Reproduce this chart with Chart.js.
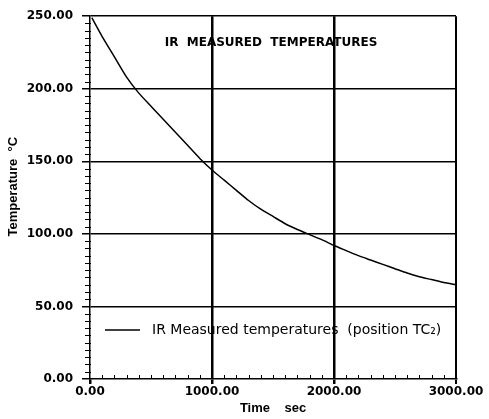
<!DOCTYPE html>
<html><head><meta charset="utf-8">
<script src="https://cdn.jsdelivr.net/npm/chart.js@4"></script>
<style>html,body{margin:0;padding:0;background:#fff}#wrap{width:489px;height:419px}</style>
</head><body><div id="wrap"><canvas id="c" width="489" height="419"></canvas></div>
<script>
const timeSec = [15,100,200,300,400,500,600,700,800,900,1000,1100,1200,1300,1400,1500,1600,1700,1800,1900,2000,2100,2200,2300,2400,2500,2600,2700,2800,2900,3000];
const tempC   = [249,236,222,208,197,188,179,170,161,152,144,137,130,123,117,112,107,103,99.5,96,92,88.5,85,82,79,76,73,70.5,68.5,66.5,65];
const xTickValues = [0,1000,2000,3000];
const yTickValues = [0,50,100,150,200,250];
const xMinorStep = 100;
const yMinorStep = 5;
const seriesLabel = 'IR Measured temperatures  (position TC\u2082)';
const chartTitle = 'IR  MEASURED  TEMPERATURES';
const xTitle = 'Time    sec';
const yTitle = '      Temperature  \u00B0C';

const FONT = 'DejaVu Sans';
const FONT2 = 'Liberation Sans';

const decor = {
  id: 'decor',
  afterDraw(chart) {
    const {ctx, chartArea: ca, scales: {x, y}} = chart;
    ctx.save();
    ctx.strokeStyle = '#000';
    ctx.lineWidth = 1;
    ctx.beginPath();
    for (let v = y.min; v <= y.max; v += yMinorStep) {
      if (yTickValues.includes(v)) continue;
      const py = Math.round(y.getPixelForValue(v)) + 0.5;
      ctx.moveTo(ca.left - 5, py); ctx.lineTo(ca.left + 1, py);
    }
    for (let v = x.min; v <= x.max; v += xMinorStep) {
      if (xTickValues.includes(v)) continue;
      const px = Math.round(x.getPixelForValue(v)) + 0.5;
      ctx.moveTo(px, ca.bottom); ctx.lineTo(px, ca.bottom - 4);
    }
    ctx.stroke();
    // title inside plot
    ctx.fillStyle = '#000';
    ctx.font = 'bold 12px "' + FONT + '"';
    ctx.textAlign = 'center';
    ctx.textBaseline = 'middle';
    ctx.fillText(chartTitle, (ca.left + ca.right) / 2 - 2, ca.top + 27);
    // legend inside plot
    const ly = ca.bottom - 49;
    ctx.lineWidth = 1.5;
    ctx.beginPath();
    ctx.moveTo(ca.left + 15, ly); ctx.lineTo(ca.left + 50, ly);
    ctx.stroke();
    ctx.font = '14px "' + FONT + '"';
    ctx.textAlign = 'left';
    ctx.fillText(chart.data.datasets[0].label, ca.left + 62, ly);
    ctx.restore();
  }
};

new Chart(document.getElementById('c'), {
  type: 'line',
  data: {
    datasets: [{
      label: seriesLabel,
      data: timeSec.map((t, i) => ({x: t, y: tempC[i]})),
      borderColor: '#000',
      borderWidth: 1.5,
      pointRadius: 0,
      tension: 0.2,
      fill: false
    }]
  },
  options: {
    responsive: false,
    devicePixelRatio: 1,
    animation: false,
    layout: {padding: {left: 0, right: 33, top: 15, bottom: 0}},
    plugins: {legend: {display: false}, title: {display: false}, tooltip: {enabled: false}},
    scales: {
      x: {
        type: 'linear', min: 0, max: 3000,
        afterBuildTicks: s => { s.ticks = xTickValues.map(v => ({value: v})); },
        afterFit: s => { s.height = 40; },
        ticks: {
          autoSkip: false, maxRotation: 0, padding: 1, color: '#000',
          font: {family: FONT, size: 12, weight: 'bold'},
          callback: v => Number(v).toFixed(2)
        },
        grid: {
          color: c => (c.tick && c.tick.value === 0) ? 'rgba(0,0,0,0)' : '#000',
          lineWidth: c => (c.tick && c.tick.value === 3000) ? 2 : 2.5,
          tickLength: 5, tickColor: '#000'
        },
        border: {display: true, color: '#000', width: 1.5},
        title: {display: true, text: xTitle, color: '#000', font: {family: FONT2, size: 13, weight: 'bold'}, padding: {top: 0, bottom: 3}}
      },
      y: {
        type: 'linear', min: 0, max: 250,
        afterBuildTicks: s => { s.ticks = yTickValues.map(v => ({value: v})); },
        afterFit: s => { s.width = 90; },
        ticks: {
          autoSkip: false, padding: 9, color: '#000',
          font: {family: FONT, size: 12, weight: 'bold'},
          callback: v => Number(v).toFixed(2)
        },
        grid: {
          color: c => (c.tick && c.tick.value === 0) ? 'rgba(0,0,0,0)' : '#000',
          lineWidth: 1.5, tickLength: 8, tickColor: '#000'
        },
        border: {display: true, color: '#000', width: 1.5},
        title: {display: true, text: yTitle, color: '#000', font: {family: FONT2, size: 13, weight: 'bold'}, padding: {top: 6, bottom: 0}}
      }
    }
  },
  plugins: [decor]
});
</script>
</body></html>
